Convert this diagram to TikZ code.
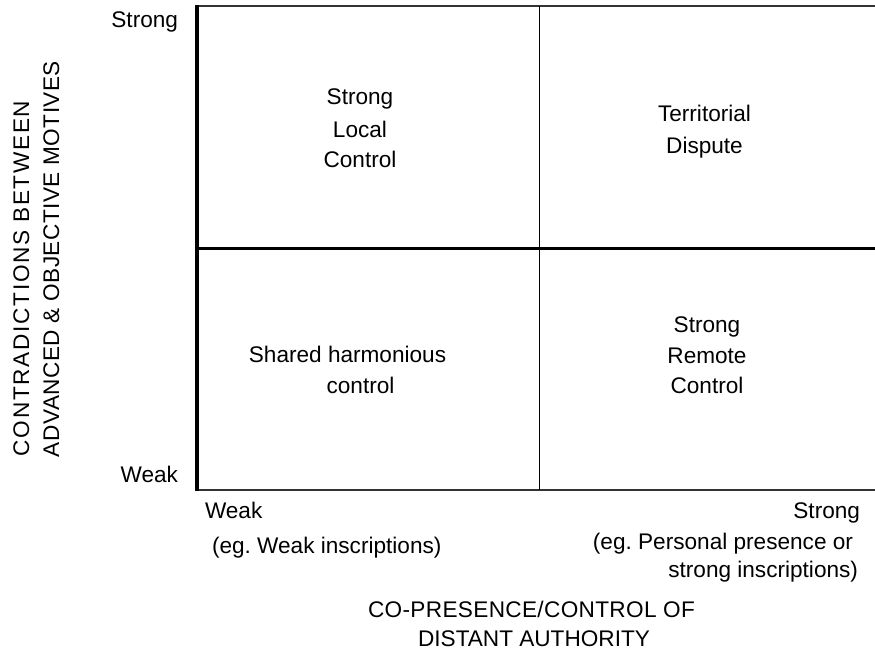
\documentclass[tikz,border=0pt]{standalone}
\usepackage{fontspec}
\setmainfont{Liberation Sans}
\frenchspacing
\begin{document}
\begin{tikzpicture}[x=1pt,y=-1pt,
  txt/.style={inner sep=0pt,outer sep=0pt,font=\fontsize{22.6}{31.5}\selectfont\frenchspacing,anchor=base},
  txtl/.style={txt,anchor=base west},
  txtr/.style={txt,anchor=base east},
  thick line/.style={line width=3.5pt,draw=black},
  thin line/.style={line width=2pt,draw=black!80}]
\useasboundingbox (0,0) rectangle (875,652);
% grid
\draw[thin line] (196,6.5) -- (875,6.5);
\draw[thin line] (195,490) -- (875,490);
\draw[line width=1.8pt] (539.5,6.5) -- (539.5,490);
\draw[thick line] (195,248.5) -- (875,248.5);
\draw[thick line] (197,5.5) -- (197,491);
% y axis labels
\node[txtr] (ystrong) at (178,28) {Strong};
\node[txtr] (yweak) at (178,482) {Weak};
\node[txtl,rotate=90] (ytitle1) at (29,456) {\addfontfeatures{LetterSpace=7.5}CONTRADICTIONS BETWEEN};
\node[txtl,rotate=90] (ytitle2) at (59,457) {\addfontfeatures{LetterSpace=2}ADVANCED \& OBJECTIVE MOTIVES};
% quadrants
\node[txt] (tl1) at (360,105) {Strong};
\node[txt] (tl2) at (360,138) {Local};
\node[txt] (tl3) at (360,168) {Control};
\node[txt] (tr1) at (704.5,122) {Territorial};
\node[txt] (tr2) at (704.5,154) {Dispute};
\node[txt] (bl1) at (347.5,362) {Shared harmonious};
\node[txt] (bl2) at (360.5,393) {control};
\node[txt] (br1) at (707,332) {Strong};
\node[txt] (br2) at (707,363) {Remote};
\node[txt] (br3) at (707,393) {Control};
% x axis labels
\node[txtl] (xweak) at (205,518) {Weak};
\node[txtl] (xweakeg) at (212,553) {(eg. Weak inscriptions)};
\node[txtr] (xstrong) at (860,518) {Strong};
\node[txtr] (xstrongeg1) at (853,549) {(eg. Personal presence or};
\node[txtr] (xstrongeg2) at (858,577) {strong inscriptions)};
\node[txt] (xtitle1) at (531.5,617) {\addfontfeatures{LetterSpace=1.5}CO-PRESENCE/CONTROL OF};
\node[txt] (xtitle2) at (534,646) {DISTANT AUTHORITY};
\end{tikzpicture}
\end{document}
